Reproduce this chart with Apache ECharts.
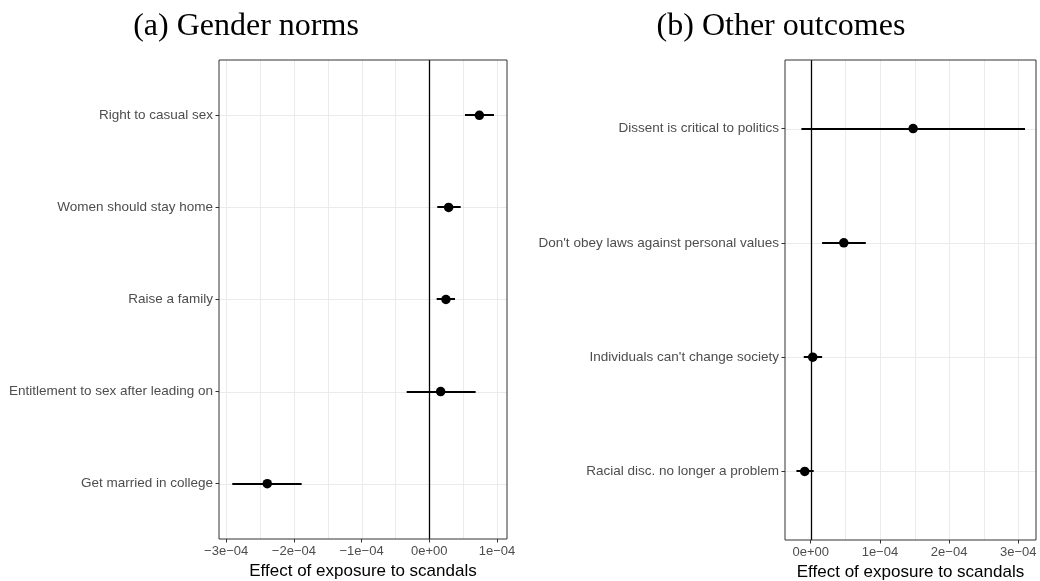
<!DOCTYPE html>
<html>
<head>
<meta charset="utf-8">
<script src="https://cdn.jsdelivr.net/npm/echarts@6/dist/echarts.min.js"></script>
<style>html,body{margin:0;padding:0;background:#fff}#c{width:1040px;height:581px}</style>
</head>
<body>
<div id="c"></div>
<script>
// ---- Data (top-to-bottom order) ----
const catsA = ['Right to casual sex', 'Women should stay home', 'Raise a family', 'Entitlement to sex after leading on', 'Get married in college'];
const estA  = [0.740e-4, 0.286e-4, 0.246e-4, 0.168e-4, -2.393e-4];
const loA   = [0.527e-4, 0.118e-4, 0.109e-4, -0.334e-4, -2.910e-4];
const hiA   = [0.956e-4, 0.464e-4, 0.380e-4, 0.685e-4, -1.885e-4];

const catsB = ['Dissent is critical to politics', "Don't obey laws against personal values", "Individuals can't change society", 'Racial disc. no longer a problem'];
const estB  = [1.480e-4, 0.478e-4, 0.029e-4, -0.087e-4];
const loB   = [-0.135e-4, 0.164e-4, -0.101e-4, -0.207e-4];
const hiB   = [3.097e-4, 0.796e-4, 0.164e-4, 0.043e-4];

const ticksA = [-3e-4, -2e-4, -1e-4, 0, 1e-4];
const tickLabelsA = ['\u22123e\u221204', '\u22122e\u221204', '\u22121e\u221204', '0e+00', '1e\u221204'];
const minorA = [-2.5e-4, -1.5e-4, -0.5e-4, 0.5e-4];
const ticksB = [0, 1e-4, 2e-4, 3e-4];
const tickLabelsB = ['0e+00', '1e\u221204', '2e\u221204', '3e\u221204'];
const minorB = [0.5e-4, 1.5e-4, 2.5e-4];

const xRangeA = [-3.106e-4, 1.148e-4];
const xRangeB = [-0.372e-4, 3.256e-4];

const titles = ['(a) Gender norms', '(b) Other outcomes'];
const xTitle = 'Effect of exposure to scandals';

// ---- Build ----
const chart = echarts.init(document.getElementById('c'), null, {renderer: 'canvas'});
const SANS = 'Liberation Sans, Arial, sans-serif';
const SERIF = 'Liberation Serif, DejaVu Serif, serif';
const GRIDCOL = '#ebebeb';

function yIdx(cats) { return cats.map((c, i) => cats.length - i); }

function xAxisCfg(gi, range, ticks, labels) {
  return {
    type: 'value', gridIndex: gi, min: range[0], max: range[1], position: 'bottom',
    name: xTitle, nameLocation: 'middle', nameGap: 19,
    nameTextStyle: {color: '#000', fontSize: 17, fontFamily: SANS},
    axisLine: {show: false, onZero: false},
    splitLine: {show: false},
    axisTick: {show: true, length: 3.5, customValues: ticks, lineStyle: {color: '#333', width: 1}},
    axisLabel: {
      customValues: ticks, color: '#4d4d4d', fontSize: 13, fontFamily: SANS, margin: 6,
      formatter: v => { const i = ticks.findIndex(t => Math.abs(t - v) < 1e-9); return i >= 0 ? labels[i] : ''; }
    }
  };
}
function yAxisCfg(gi, cats) {
  const vals = yIdx(cats);
  return {
    type: 'value', gridIndex: gi, min: 0.4, max: cats.length + 0.6, position: 'left',
    axisLine: {show: false, onZero: false},
    splitLine: {show: false},
    axisTick: {show: true, length: 3.5, customValues: vals, lineStyle: {color: '#333', width: 1}},
    axisLabel: {
      customValues: vals, color: '#4d4d4d', fontSize: 13.5, fontFamily: SANS, margin: 6,
      formatter: v => { const i = cats.length - Math.round(v); return cats[i] || ''; }
    }
  };
}

// gridlines: [value, orientation] where 0 = vertical (x value), 1 = horizontal (y value)
function gridLineSeries(gi, ticks, minor, cats) {
  const data = [];
  ticks.concat(minor).forEach(t => data.push([t, 0]));
  yIdx(cats).forEach(y => data.push([y, 1]));
  return {
    type: 'custom', xAxisIndex: gi, yAxisIndex: gi, z: 1, silent: true,
    data: data, clip: true,
    renderItem: (params, api) => {
      const cs = params.coordSys;
      const v = api.value(0), o = api.value(1);
      let shape;
      if (o === 0) {
        const x = Math.round(api.coord([v, 1])[0]) + 0.5;
        shape = {x1: x, y1: cs.y, x2: x, y2: cs.y + cs.height};
      } else {
        const y = Math.round(api.coord([0, v])[1]) + 0.5;
        shape = {x1: cs.x, y1: y, x2: cs.x + cs.width, y2: y};
      }
      return {type: 'line', shape: shape, style: {stroke: GRIDCOL, lineWidth: 1}};
    }
  };
}
function zeroLineSeries(gi) {
  return {
    type: 'custom', xAxisIndex: gi, yAxisIndex: gi, z: 2, silent: true,
    data: [[0]],
    renderItem: (params, api) => {
      const cs = params.coordSys;
      const x = Math.round(api.coord([api.value(0), 1])[0]) + 0.5;
      return {type: 'line', shape: {x1: x, y1: cs.y, x2: x, y2: cs.y + cs.height},
        style: {stroke: '#000', lineWidth: 1.3}};
    }
  };
}
function errSeries(gi, cats, lo, hi) {
  const ys = yIdx(cats);
  return {
    type: 'custom', xAxisIndex: gi, yAxisIndex: gi, z: 3, silent: true,
    data: cats.map((c, i) => [lo[i], hi[i], ys[i]]),
    renderItem: (params, api) => {
      const a = api.coord([api.value(0), api.value(2)]);
      const b = api.coord([api.value(1), api.value(2)]);
      const y = Math.round(a[1]);
      return {type: 'line', shape: {x1: a[0], y1: y, x2: b[0], y2: y},
        style: {stroke: '#000', lineWidth: 2}};
    }
  };
}
function pointSeries(gi, cats, est) {
  const ys = yIdx(cats);
  return {
    type: 'scatter', xAxisIndex: gi, yAxisIndex: gi, z: 4, silent: true,
    symbol: 'circle', symbolSize: 9.5, itemStyle: {color: '#000', opacity: 1},
    data: cats.map((c, i) => [est[i], ys[i]])
  };
}

const titleStyle = {fontFamily: SERIF, fontWeight: 'normal', fontSize: 32, color: '#000'};
const option = {
  animation: false,
  backgroundColor: '#fff',
  title: [
    {text: titles[0], left: 241, top: 6, textAlign: 'center', textStyle: titleStyle},
    {text: titles[1], left: 776, top: 6, textAlign: 'center', textStyle: titleStyle}
  ],
  grid: [
    {left: 219, top: 60, width: 288, height: 479, show: true, borderColor: '#333', borderWidth: 1,
      backgroundColor: 'transparent', z: 5, containLabel: false, outerBoundsMode: 'none'},
    {left: 785, top: 60, width: 251, height: 480, show: true, borderColor: '#333', borderWidth: 1,
      backgroundColor: 'transparent', z: 5, containLabel: false, outerBoundsMode: 'none'}
  ],
  xAxis: [xAxisCfg(0, xRangeA, ticksA, tickLabelsA), xAxisCfg(1, xRangeB, ticksB, tickLabelsB)],
  yAxis: [yAxisCfg(0, catsA), yAxisCfg(1, catsB)],
  series: [
    gridLineSeries(0, ticksA, minorA, catsA),
    gridLineSeries(1, ticksB, minorB, catsB),
    zeroLineSeries(0), zeroLineSeries(1),
    errSeries(0, catsA, loA, hiA), errSeries(1, catsB, loB, hiB),
    pointSeries(0, catsA, estA), pointSeries(1, catsB, estB)
  ]
};
chart.setOption(option);
</script>
</body>
</html>
